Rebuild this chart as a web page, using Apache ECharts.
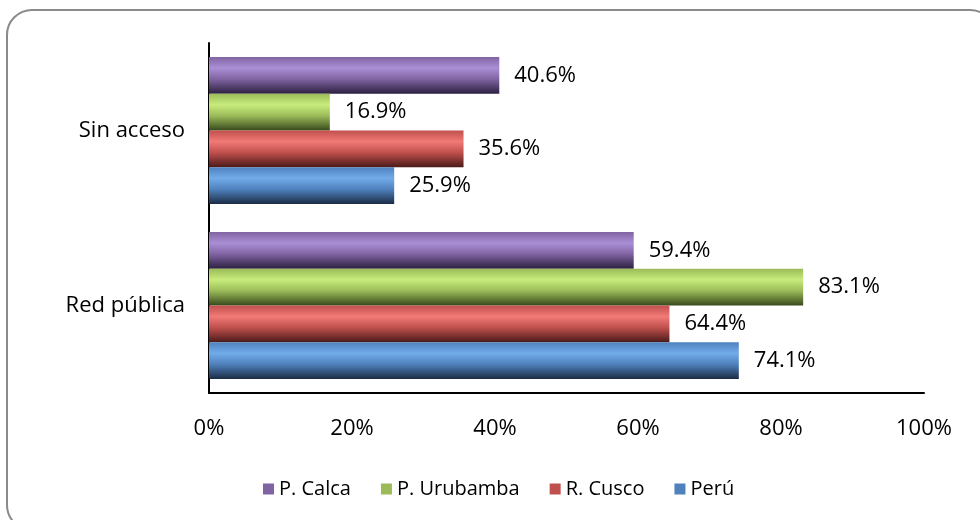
<!DOCTYPE html>
<html>
<head>
<meta charset="utf-8">
<script src="https://cdn.jsdelivr.net/npm/echarts@6/dist/echarts.min.js"></script>
<style>
  html, body { margin: 0; padding: 0; background: #fff; }
  #chart { width: 980px; height: 520px; }
</style>
</head>
<body>
<div id="chart"></div>
<script>
// categories bottom -> top, as the y axis draws them
const categories = ['Red pública', 'Sin acceso']
const seriesNames = ['P. Calca', 'P. Urubamba', 'R. Cusco', 'Perú']
const calca = [59.4, 40.6]
const urubamba = [83.1, 16.9]
const cusco = [64.4, 35.6]
const peru = [74.1, 25.9]
const xTicks = [0, 20, 40, 60, 80, 100]

// [base, highlight, shadow] for the cylinder shading
const SHADES = [
  ['#8064a2', '#ab8fd6', '#2c2140'],
  ['#9bbb59', '#c8ec7c', '#38491c'],
  ['#c0504d', '#f27a77', '#4a1a19'],
  ['#4f81bd', '#72abea', '#1b2c44'],
]

function barFill(s) {
  return new echarts.graphic.LinearGradient(0, 0, 0, 1, [
    { offset: 0, color: s[0] },
    { offset: 0.3, color: s[1] },
    { offset: 0.6, color: s[0] },
    { offset: 1, color: s[2] },
  ])
}

const values = [calca, urubamba, cusco, peru]
const FONT = '"Open Sans", "Noto Sans", sans-serif'

const chart = echarts.init(document.getElementById('chart'))
chart.setOption({
  animation: false,
  textStyle: { fontFamily: FONT },
  graphic: [{
    type: 'rect',
    shape: { x: 7, y: 10, width: 988, height: 520, r: 25 },
    style: { fill: 'none', stroke: '#8a8a8a', lineWidth: 2 },
    silent: true,
  }],
  grid: { left: 209, right: 56, top: 43, bottom: 127 },
  legend: {
    left: 258,
    top: 474,
    itemWidth: 11,
    itemHeight: 11,
    itemGap: 30,
    icon: 'rect',
    textStyle: { fontSize: 20, color: '#000', fontFamily: FONT },
    data: seriesNames.map((n, i) => ({ name: n, itemStyle: { color: SHADES[i][0] } })),
  },
  xAxis: {
    type: 'value',
    min: 0,
    max: 100,
    interval: 20,
    axisLine: { show: true, lineStyle: { color: '#000', width: 2 } },
    axisTick: { show: false },
    splitLine: { show: false },
    axisLabel: {
      margin: 25,
      fontSize: 22,
      color: '#000',
      fontFamily: FONT,
      formatter: v => (xTicks.includes(v) ? v + '%' : ''),
    },
  },
  yAxis: {
    type: 'category',
    data: categories,
    axisLine: { show: true, lineStyle: { color: '#000', width: 2 } },
    axisTick: { show: false },
    axisLabel: { margin: 24, fontSize: 22, color: '#000', fontFamily: FONT },
  },
  series: seriesNames.map((name, i) => ({
    name,
    type: 'bar',
    data: values[i],
    barGap: '0%',
    barCategoryGap: '16%',
    itemStyle: { color: barFill(SHADES[i]) },
    label: {
      show: true,
      position: 'right',
      distance: 15,
      fontSize: 22,
      color: '#000',
      fontFamily: FONT,
      formatter: p => p.value.toFixed(1) + '%',
    },
  })),
})
</script>
</body>
</html>
